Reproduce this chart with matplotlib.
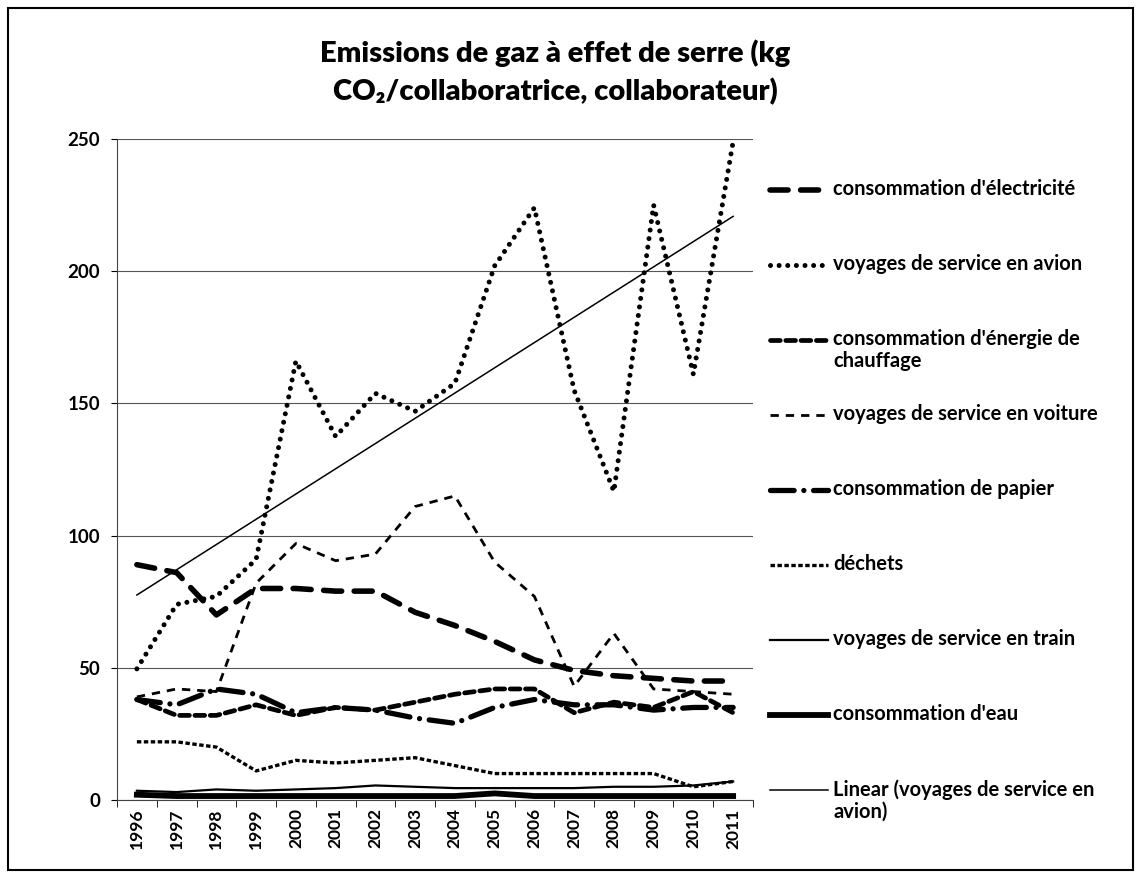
import numpy as np
import matplotlib.pyplot as plt
from matplotlib.lines import Line2D
from matplotlib.patches import Rectangle

plt.rcParams['font.family'] = ['Lato', 'DejaVu Sans']
plt.rcParams['font.weight'] = 'bold'
plt.rcParams['lines.scale_dashes'] = False

W, H = 1141, 876

years = [str(y) for y in range(1996, 2012)]

# kg CO2 par collaboratrice / collaborateur
electricite = [89, 86, 70, 80, 80, 79, 79, 71, 66, 60, 53, 49, 47, 46, 45, 45]
avion = [49.6, 74, 77, 91, 166, 137.5, 153.8, 147, 157.6, 202, 224, 155, 116.7, 225, 161, 249]
chauffage = [38, 32, 32, 36, 32, 35, 34, 37, 40, 42, 42, 33, 37, 35, 41, 33]
voiture = [39, 42, 41, 82, 97, 90.5, 93, 111, 115, 90, 77, 43, 63, 42, 41, 40]
papier = [38, 36, 42, 40, 33, 35, 34, 31, 29, 35, 38, 36, 36, 34, 35, 35]
dechets = [22, 22, 20, 11, 15, 14, 15, 16, 13, 10, 10, 10, 10, 10, 5, 7]
train = [3.5, 3, 4, 3.5, 4, 4.5, 5.5, 5, 4.5, 4.5, 4.5, 4.5, 5, 5, 5.5, 7]
eau = [2, 1.5, 1.5, 1.5, 1.5, 1.5, 1.5, 1.5, 1.5, 2.5, 1.5, 1.5, 1.5, 1.5, 1.5, 1.5]

series = [
    ("consommation d'électricité", electricite, dict(lw=4.0, dashes=(13, 9), dash_capstyle='round')),
    ("voyages de service en avion", avion, dict(lw=3.6, dashes=(0.01, 6.2), dash_capstyle='round')),
    ("consommation d'énergie de\nchauffage", chauffage, dict(lw=3.4, dashes=(7, 4), dash_capstyle='round')),
    ("voyages de service en voiture", voiture, dict(lw=2.0, dashes=(6, 5))),
    ("consommation de papier", papier, dict(lw=3.8, dashes=(17, 7, 0.01, 7), dash_capstyle='round')),
    ("déchets", dechets, dict(lw=2.4, dashes=(3.2, 1.8))),
    ("voyages de service en train", train, dict(lw=1.6)),
    ("consommation d'eau", eau, dict(lw=4.2)),
]
trend_label = "Linear (voyages de service en\navion)"
trend_style = dict(lw=1.1)

fig = plt.figure(figsize=(W / 100, H / 100), dpi=100)
ax = fig.add_axes([117 / W, 1 - 800 / H, 636 / W, 661 / H])

x = np.arange(len(years))
for label, vals, style in series:
    ax.plot(x, vals, color='black', **style)

# tendance lineaire des voyages en avion
slope, intercept = np.polyfit(x, avion, 1)
ax.plot(x, slope * x + intercept, color='black', **trend_style)

ax.set_xlim(-0.5, len(years) - 0.5)
ax.set_ylim(0, 250)
ax.set_yticks(range(0, 251, 50))
ax.set_xticks(x)
ax.set_xticklabels(years, rotation=90, fontsize=12.5)
ax.set_xticks(np.arange(-0.5, len(years), 1), minor=True)
ax.tick_params(axis='x', which='major', length=0, pad=6)
ax.tick_params(axis='x', which='minor', length=5, direction='out')
ax.tick_params(axis='y', labelsize=13.5, length=4, pad=8)
ax.grid(axis='y', color='#555555', lw=0.8)
ax.set_axisbelow(True)
for side in ['top', 'right']:
    ax.spines[side].set_visible(False)
ax.spines['left'].set_color('#444444')
ax.spines['bottom'].set_color('#444444')

# legende a la Excel : symbole aligne sur la premiere ligne du texte
entries = [(lab, st) for lab, _, st in series] + [(trend_label, trend_style)]
for k, (lab, st) in enumerate(entries):
    hy = 190 + 75 * k
    fig.add_artist(Line2D([770 / W, 828 / W], [1 - hy / H, 1 - hy / H],
                          transform=fig.transFigure, color='black', **st))
    fig.text(833 / W, 1 - (hy - 11) / H, lab, ha='left', va='top',
             fontsize=14.5, linespacing=1.15)

fig.text(555 / W, 1 - 72 / H,
         "Emissions de gaz à effet de serre (kg\nCO₂/collaboratrice, collaborateur)",
         ha='center', va='center', fontsize=21, fontweight='heavy', linespacing=1.5)

fig.patches.append(Rectangle((8 / W, 6 / H), 1125 / W, 862 / H,
                             transform=fig.transFigure, fill=False,
                             edgecolor='black', lw=1.5))

fig.savefig("out.png", dpi=100)
